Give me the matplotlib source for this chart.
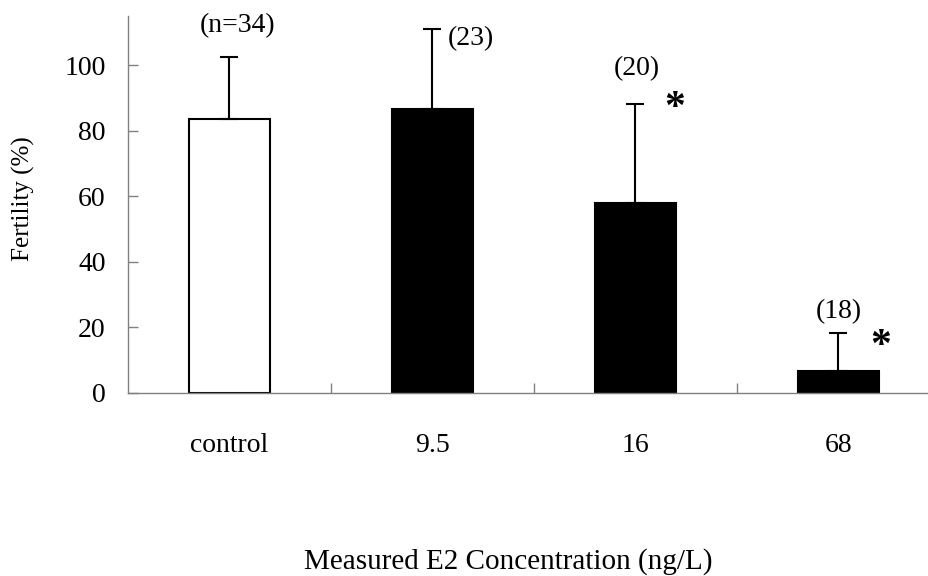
import numpy as np
import matplotlib
matplotlib.use("Agg")
from matplotlib import pyplot as plt

# dati
categorie = ["control", "9.5", "16", "68"]
fertilita = [83.7, 86.7, 58.0, 6.7]      # media (%)
err_sup = [18.7, 24.2, 30.2, 11.6]       # solo barra d'errore superiore
n_campioni = ["(n=34)", "(23)", "(20)", "(18)"]
significativo = [False, False, True, True]

plt.rcParams['font.family'] = ['Liberation Serif', 'DejaVu Serif']

grigio = '#808080'

fig = plt.figure(figsize=(9.29, 5.76), dpi=100)
ax = fig.add_axes([128/929, 1 - 393/576, 812/929, 377/576])

x = np.arange(len(categorie))
colori = ['white', 'black', 'black', 'black']
ax.bar(x, fertilita, width=0.4, color=colori, edgecolor='black', linewidth=1.5, zorder=2)
ax.errorbar(x, fertilita, yerr=[np.zeros(len(x)), err_sup], fmt='none',
            ecolor='black', elinewidth=1.5, capsize=6.5, capthick=1.5, zorder=3)

ax.set_xlim(-0.5, 3.5)
ax.set_ylim(0, 115)
ax.set_yticks([0, 20, 40, 60, 80, 100])
ax.set_xticks(x)
ax.set_xticklabels(categorie)
ax.set_xticks(np.arange(len(categorie)) + 0.5, minor=True)

for s in ['top', 'right']:
    ax.spines[s].set_visible(False)
for s in ['left', 'bottom']:
    ax.spines[s].set_color(grigio)
    ax.spines[s].set_linewidth(1.0)

ax.tick_params(axis='y', direction='in', length=7, width=1.0, color=grigio,
               labelsize=20, pad=16)
ax.tick_params(axis='x', which='major', length=0, labelsize=20, pad=29)
ax.tick_params(axis='x', which='minor', direction='in', length=7, width=1.0, color=grigio)

# numerosita' e asterischi (posizioni a occhio)
pos_n = [(0.04, 112.2, 'center'), (1.075, 108.2, 'left'), (2.007, 99.1, 'center'), (3.0, 24.8, 'center')]
for (px, py, ha), testo in zip(pos_n, n_campioni):
    ax.text(px, py, testo, ha=ha, va='center', fontsize=20, clip_on=False)

pos_ast = [None, None, (2.195, 86.5), (3.21, 14.0)]
for p, sig in zip(pos_ast, significativo):
    if sig:
        ax.text(p[0], p[1], '*', ha='center', va='center', fontsize=30,
                fontweight='bold', clip_on=False)

fig.text(23/929, 1 - 199/576, 'Fertility (%)', rotation=90, ha='center', va='center', fontsize=18)
fig.text(508/929, 1 - 562/576, 'Measured E2 Concentration (ng/L)', ha='center', va='center', fontsize=21)

fig.savefig('out.png', dpi=100)
